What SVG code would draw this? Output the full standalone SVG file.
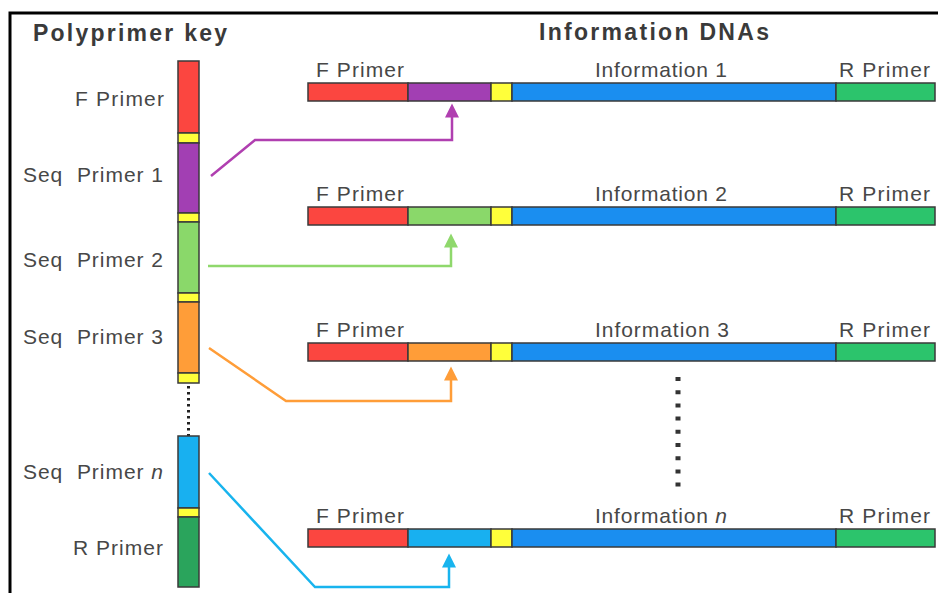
<svg xmlns="http://www.w3.org/2000/svg" width="938" height="593" viewBox="0 0 938 593">
<style>
  text { font-family: "Liberation Sans", Arial, sans-serif; fill: #474747; }
  .title { font-size: 23px; font-weight: bold; fill: #3a3a3a; }
  .lbl { font-size: 21px; white-space: pre; }
  .seg { stroke: #3a3a3a; stroke-width: 1.5; }
  .red { fill: #fb4640; }
  .yel { fill: #ffff3a; }
  .blue { fill: #1a8ef0; }
  .rg { fill: #2cc46c; }
  .kg { fill: #2aa45c; }
  .pur { fill: #a23fb3; }
  .lg { fill: #8ad86a; }
  .org { fill: #ff9d38; }
  .cy { fill: #18b0f0; }
  .conn { fill: none; stroke-width: 2.5; stroke-linejoin: miter; }
</style>
<defs>
  <marker id="aP" viewBox="0 0 10 10" refX="4" refY="5" markerWidth="16" markerHeight="14" markerUnits="userSpaceOnUse" orient="auto"><path d="M0,0 L10,5 L0,10 z" fill="#b03fb0"/></marker>
  <marker id="aG" viewBox="0 0 10 10" refX="4" refY="5" markerWidth="16" markerHeight="14" markerUnits="userSpaceOnUse" orient="auto"><path d="M0,0 L10,5 L0,10 z" fill="#8fd86c"/></marker>
  <marker id="aO" viewBox="0 0 10 10" refX="4" refY="5" markerWidth="16" markerHeight="14" markerUnits="userSpaceOnUse" orient="auto"><path d="M0,0 L10,5 L0,10 z" fill="#ff9d38"/></marker>
  <marker id="aB" viewBox="0 0 10 10" refX="4" refY="5" markerWidth="16" markerHeight="14" markerUnits="userSpaceOnUse" orient="auto"><path d="M0,0 L10,5 L0,10 z" fill="#18b4ee"/></marker>
</defs>
<rect x="0" y="0" width="938" height="593" fill="#ffffff"/>
<!-- frame -->
<path d="M10,593 L10,13 L938,13" fill="none" stroke="#000" stroke-width="3"/>

<text class="title" x="33" y="41" textLength="194">Polyprimer key</text>
<text class="title" x="539" y="40" textLength="230">Information DNAs</text>

<!-- key -->
<g id="key">
  <rect class="seg red" x="178" y="61" width="21" height="72"/>
  <rect class="seg yel" x="178" y="133" width="21" height="10"/>
  <rect class="seg pur" x="178" y="143" width="21" height="70"/>
  <rect class="seg yel" x="178" y="213" width="21" height="9"/>
  <rect class="seg lg" x="178" y="222" width="21" height="71"/>
  <rect class="seg yel" x="178" y="293" width="21" height="9"/>
  <rect class="seg org" x="178" y="302" width="21" height="71"/>
  <rect class="seg yel" x="178" y="373" width="21" height="10"/>
  <line x1="188.5" y1="386" x2="188.5" y2="436" stroke="#222" stroke-width="3" stroke-dasharray="2.5 3.5"/>
  <rect class="seg cy" x="178" y="436" width="21" height="72"/>
  <rect class="seg yel" x="178" y="508" width="21" height="9"/>
  <rect class="seg kg" x="178" y="517" width="21" height="70"/>
  <text class="lbl" x="75" y="106" textLength="89">F Primer</text>
  <text class="lbl" x="23" y="182" textLength="140">Seq  Primer 1</text>
  <text class="lbl" x="23" y="267" textLength="140">Seq  Primer 2</text>
  <text class="lbl" x="23" y="344" textLength="140">Seq  Primer 3</text>
  <text class="lbl" x="23" y="479" textLength="140">Seq  Primer <tspan font-style="italic">n</tspan></text>
  <text class="lbl" x="73" y="555" textLength="90">R Primer</text>
</g>

<!-- information DNA 1 -->
<g id="dna1">
  <rect class="seg red" x="308" y="83" width="100" height="18"/>
  <rect class="seg pur" x="408" y="83" width="83" height="18"/>
  <rect class="seg yel" x="491" y="83" width="21" height="18"/>
  <rect class="seg blue" x="512" y="83" width="324" height="18"/>
  <rect class="seg rg" x="836" y="83" width="99" height="18"/>
  <text class="lbl" x="316" y="77" textLength="88">F Primer</text>
  <text class="lbl" x="595" y="77" textLength="132">Information 1</text>
  <text class="lbl" x="839" y="77" textLength="91">R Primer</text>
</g>

<g id="dna2">
  <rect class="seg red" x="308" y="207" width="100" height="18"/>
  <rect class="seg lg" x="408" y="207" width="83" height="18"/>
  <rect class="seg yel" x="491" y="207" width="21" height="18"/>
  <rect class="seg blue" x="512" y="207" width="324" height="18"/>
  <rect class="seg rg" x="836" y="207" width="99" height="18"/>
  <text class="lbl" x="316" y="201" textLength="88">F Primer</text>
  <text class="lbl" x="595" y="201" textLength="132">Information 2</text>
  <text class="lbl" x="839" y="201" textLength="91">R Primer</text>
</g>

<g id="dna3">
  <rect class="seg red" x="308" y="343" width="100" height="18"/>
  <rect class="seg org" x="408" y="343" width="83" height="18"/>
  <rect class="seg yel" x="491" y="343" width="21" height="18"/>
  <rect class="seg blue" x="512" y="343" width="324" height="18"/>
  <rect class="seg rg" x="836" y="343" width="99" height="18"/>
  <text class="lbl" x="316" y="337" textLength="88">F Primer</text>
  <text class="lbl" x="595" y="337" textLength="134">Information 3</text>
  <text class="lbl" x="839" y="337" textLength="91">R Primer</text>
</g>

<g id="ellipsis">
  <line x1="678" y1="377" x2="678" y2="490" stroke="#333" stroke-width="5" stroke-dasharray="4 9.2"/>
</g>

<g id="dnan">
  <rect class="seg red" x="308" y="529" width="100" height="18"/>
  <rect class="seg cy" x="408" y="529" width="83" height="18"/>
  <rect class="seg yel" x="491" y="529" width="21" height="18"/>
  <rect class="seg blue" x="512" y="529" width="324" height="18"/>
  <rect class="seg rg" x="836" y="529" width="99" height="18"/>
  <text class="lbl" x="316" y="523" textLength="88">F Primer</text>
  <text class="lbl" x="595" y="523" textLength="132">Information <tspan font-style="italic">n</tspan></text>
  <text class="lbl" x="839" y="523" textLength="91">R Primer</text>
</g>

<g id="connectors">
  <path class="conn" stroke="#b03fb0" d="M211,176 L255,140 L452,140 L452,112" marker-end="url(#aP)"/>
  <path class="conn" stroke="#8fd86c" d="M208,266 L451,266 L451,242" marker-end="url(#aG)"/>
  <path class="conn" stroke="#ff9d38" d="M209,348 L286,401 L451,401 L451,375" marker-end="url(#aO)"/>
  <path class="conn" stroke="#18b4ee" d="M209,473 L315,587 L449,587 L449,562" marker-end="url(#aB)"/>
</g>
</svg>
